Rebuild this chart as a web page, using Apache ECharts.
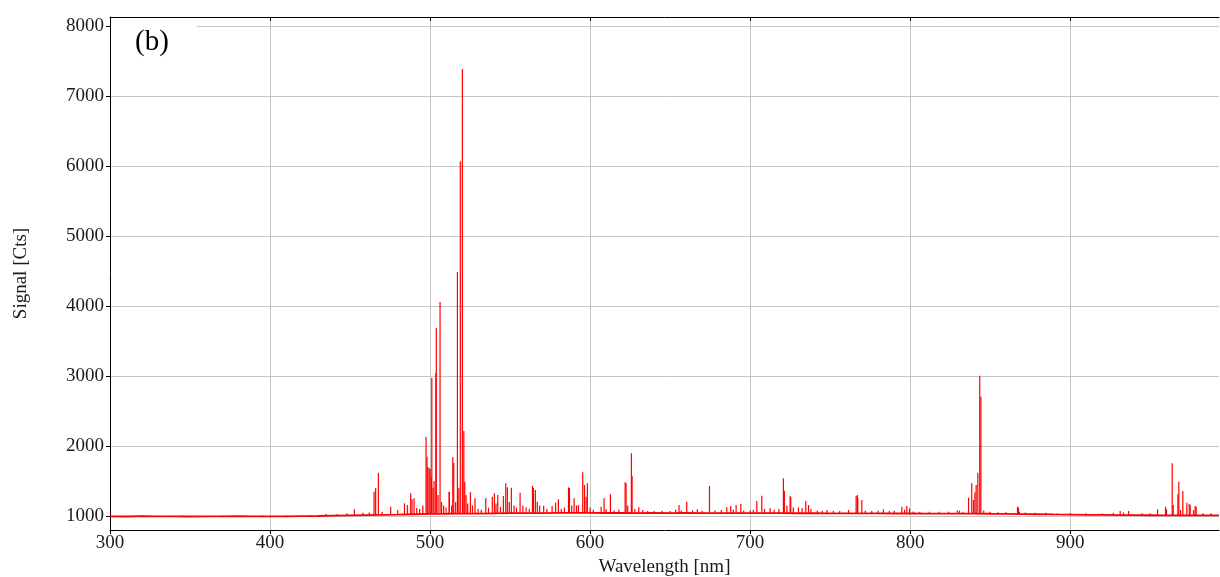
<!DOCTYPE html>
<html>
<head>
<meta charset="utf-8">
<script src="https://cdn.jsdelivr.net/npm/echarts@6/dist/echarts.min.js"></script>
<style>
html,body{margin:0;padding:0;background:#fff;}
#chart{width:1220px;height:577px;}
</style>
</head>
<body>
<div id="chart"></div>
<script>
// ---- data ----
const xTicks = [300, 400, 500, 600, 700, 800, 900];
const yTicks = [1000, 2000, 3000, 4000, 5000, 6000, 7000, 8000];
const panelLabel = '(b)';
const xTitle = 'Wavelength [nm]';
const yTitle = 'Signal [Cts]';

// baseline (continuum) of the spectrum: [wavelength nm, counts]
const baseline = [
  [300,995],[310,993],[320,997],[330,994],[340,996],[350,993],[360,996],[370,994],[380,997],[390,994],
  [400,996],[410,995],[420,998],[430,1000],[440,1004],[450,1008],[460,1012],[470,1016],[480,1020],[490,1025],
  [500,1030],[510,1032],[520,1035],[530,1034],[540,1038],[550,1040],[560,1042],[570,1041],[580,1045],[590,1044],
  [600,1045],[610,1043],[620,1044],[630,1042],[640,1043],[650,1041],[660,1045],[670,1042],[680,1042],[690,1040],
  [700,1041],[710,1040],[720,1042],[730,1039],[740,1040],[750,1038],[760,1038],[770,1037],[780,1038],[790,1036],
  [800,1036],[810,1035],[820,1035],[830,1034],[840,1035],[850,1032],[860,1030],[870,1027],[880,1025],[890,1022],
  [900,1020],[910,1017],[920,1015],[930,1013],[940,1012],[950,1011],[960,1010],[970,1009],[980,1008],[993,1008]
];

// emission lines: wavelength (nm) and peak height (counts)
const peakWl = [
  320,345,370,395,410,425,435,442,448,452.7,458,462,465,466,467.7,470,475.4,479.8,484,485.8,
  487.9,488.75,490,491.7,493.5,495.5,497.5,498.1,498.6,499.4,500,500.8,501.1,501.9,502.5,503.6,503.9,505,506.25,507.2,
  508.5,510,511.9,512.1,513.5,514.2,514.8,516,517.1,518,518.9,520.2,521.1,521.7,522.5,523.5,525.2,526.5,528.1,530,
  532,534.8,536.5,538.9,540.2,541.2,542.3,544,545.8,547.3,548.3,549.5,550.8,552.5,554,556.25,558,560,562,564,
  564.6,565.8,567,568.5,571,573,576.25,578.5,580.2,582,584,586.5,587.1,588.5,590,591.5,592.7,595.4,596.5,597.5,
  598.3,600,602,606.9,608.75,610,612.7,615,618,621.9,622.5,623.5,625.8,626.25,628,630.4,632.9,636,640,645,
  650,653.5,655.6,657,660.4,664,667,670,674.6,678,682,685.4,687.9,689.5,691.25,694.2,696,700,702,704.2,
  707.3,709,712.5,715,718,720.8,721.4,723,725,725.4,727,730.2,732.5,734.8,736.5,738,742,745,748,752,
  756,761.5,766.25,767,767.3,769.8,772,776,780,783.3,787,790,794.8,796.5,797.9,799.6,802,806,812,818,
  824,829.5,830.8,833,836.5,838.5,839.6,840.5,841.25,842.3,843.5,844.2,846,850,855,860,867.1,867.7,868.3,872,
  878,885,892,900,910,920,927,931.25,933.3,936.5,945,950,954.6,959.6,960.2,963.75,964.4,967.3,967.9,969,
  970.4,972.9,974.4,975,977.1,978.1,978.75,983,988
];
const peakHeight = [
  1010,1010,1008,1012,1012,1015,1030,1030,1040,1095,1045,1050,1347,1400,1614,1060,1133,1086,1181,1157,
  1324,1238,1252,1114,1100,1150,2130,1848,1700,1686,1671,1562,2971,1400,1500,3043,3686,1300,4057,1200,
  1150,1120,1347,1343,1150,1843,1757,1200,4486,1400,6070,7386,2214,1486,1300,1180,1343,1150,1252,1100,
  1090,1252,1120,1276,1324,1180,1300,1130,1286,1467,1410,1200,1405,1150,1120,1333,1150,1120,1100,1433,
  1400,1371,1205,1150,1148,1100,1143,1190,1240,1100,1120,1410,1400,1150,1252,1150,1157,1624,1443,1276,
  1467,1120,1090,1133,1252,1100,1310,1080,1090,1481,1467,1150,1895,1571,1100,1124,1086,1070,1070,1075,
  1070,1090,1157,1080,1205,1080,1095,1075,1429,1080,1085,1124,1143,1090,1157,1171,1080,1080,1090,1214,
  1290,1100,1110,1090,1100,1538,1362,1150,1286,1267,1120,1124,1110,1214,1157,1100,1080,1075,1086,1075,
  1070,1086,1286,1300,1252,1229,1080,1070,1075,1095,1070,1075,1133,1090,1143,1110,1065,1060,1060,1060,
  1062,1080,1076,1060,1262,1467,1229,1340,1443,1619,3005,2705,1080,1060,1055,1055,1133,1119,1060,1050,
  1045,1045,1040,1040,1040,1035,1045,1071,1050,1071,1040,1040,1095,1133,1095,1752,1157,1310,1490,1086,
  1357,1190,1170,1157,1086,1143,1133,1040,1040
];

// ---- build chart ----
function footAt(wl) {
  let v = baseline[0][1];
  for (const p of baseline) { if (p[0] <= wl) v = p[1]; else break; }
  return v;
}
const peakData = peakWl.map((w, i) => [w, peakHeight[i], footAt(w)]);

const serif = '"Liberation Serif", "DejaVu Serif", serif';
const RED = '#ff0000';
const plain = v => String(Math.round(v));

const chart = echarts.init(document.getElementById('chart'), null, {renderer: 'canvas'});
chart.setOption({
  animation: false,
  backgroundColor: '#ffffff',
  grid: {left: 110, right: 1, top: 17, bottom: 47, containLabel: false, outerBoundsMode: 'none'},
  xAxis: [{
    type: 'value', min: 300, max: 993, position: 'bottom',
    name: xTitle, nameLocation: 'middle', nameGap: 27,
    nameTextStyle: {fontFamily: serif, fontSize: 19, color: '#1a1a1a'},
    axisLine: {show: true, lineStyle: {color: '#000', width: 1}},
    axisTick: {show: true, inside: false, length: 4, customValues: xTicks, lineStyle: {color: '#000'}},
    axisLabel: {customValues: xTicks, formatter: plain, fontFamily: serif, fontSize: 19, color: '#1a1a1a', margin: 4},
    splitLine: {show: true, lineStyle: {color: '#c6c6c6', width: 1}}
  }, {
    type: 'value', min: 300, max: 993, position: 'top',
    axisLine: {show: true, lineStyle: {color: '#000', width: 1}},
    axisTick: {show: true, inside: true, length: 4, customValues: xTicks, lineStyle: {color: '#000'}},
    axisLabel: {show: false},
    splitLine: {show: false}
  }],
  yAxis: {
    type: 'value', min: 800, max: 8130,
    name: yTitle, nameLocation: 'middle', nameGap: 79, nameRotate: 90,
    nameTextStyle: {fontFamily: serif, fontSize: 19, color: '#1a1a1a'},
    axisLine: {show: true, lineStyle: {color: '#000', width: 1}},
    axisTick: {show: true, inside: false, length: 4, customValues: yTicks, lineStyle: {color: '#000'}},
    axisLabel: {customValues: yTicks, formatter: plain, fontFamily: serif, fontSize: 19, color: '#1a1a1a', margin: 6},
    splitLine: {show: true, lineStyle: {color: '#c6c6c6', width: 1}}
  },
  graphic: [
    {type: 'rect', z: 100, shape: {x: 111, y: 18, width: 86, height: 60}, style: {fill: '#ffffff'}},
    {type: 'text', z: 101, left: 135, top: 28,
     style: {text: panelLabel, font: '29px "Liberation Serif", serif', fill: '#000'}}
  ],
  series: [{
    type: 'line', xAxisIndex: 0, data: baseline, showSymbol: false, symbol: 'none',
    lineStyle: {color: RED, width: 1.8}, z: 3
  }, {
    type: 'custom', xAxisIndex: 0, data: peakData, encode: {x: 0, y: 1}, z: 4,
    renderItem: function (params, api) {
      const wl = api.value(0), top = api.value(1), foot = api.value(2);
      const a = api.coord([wl, foot]);
      const b = api.coord([wl, top]);
      return {type: 'line', shape: {x1: a[0], y1: a[1], x2: b[0], y2: b[1]},
              style: {stroke: RED, lineWidth: 1.2}};
    }
  }]
});
</script>
</body>
</html>
